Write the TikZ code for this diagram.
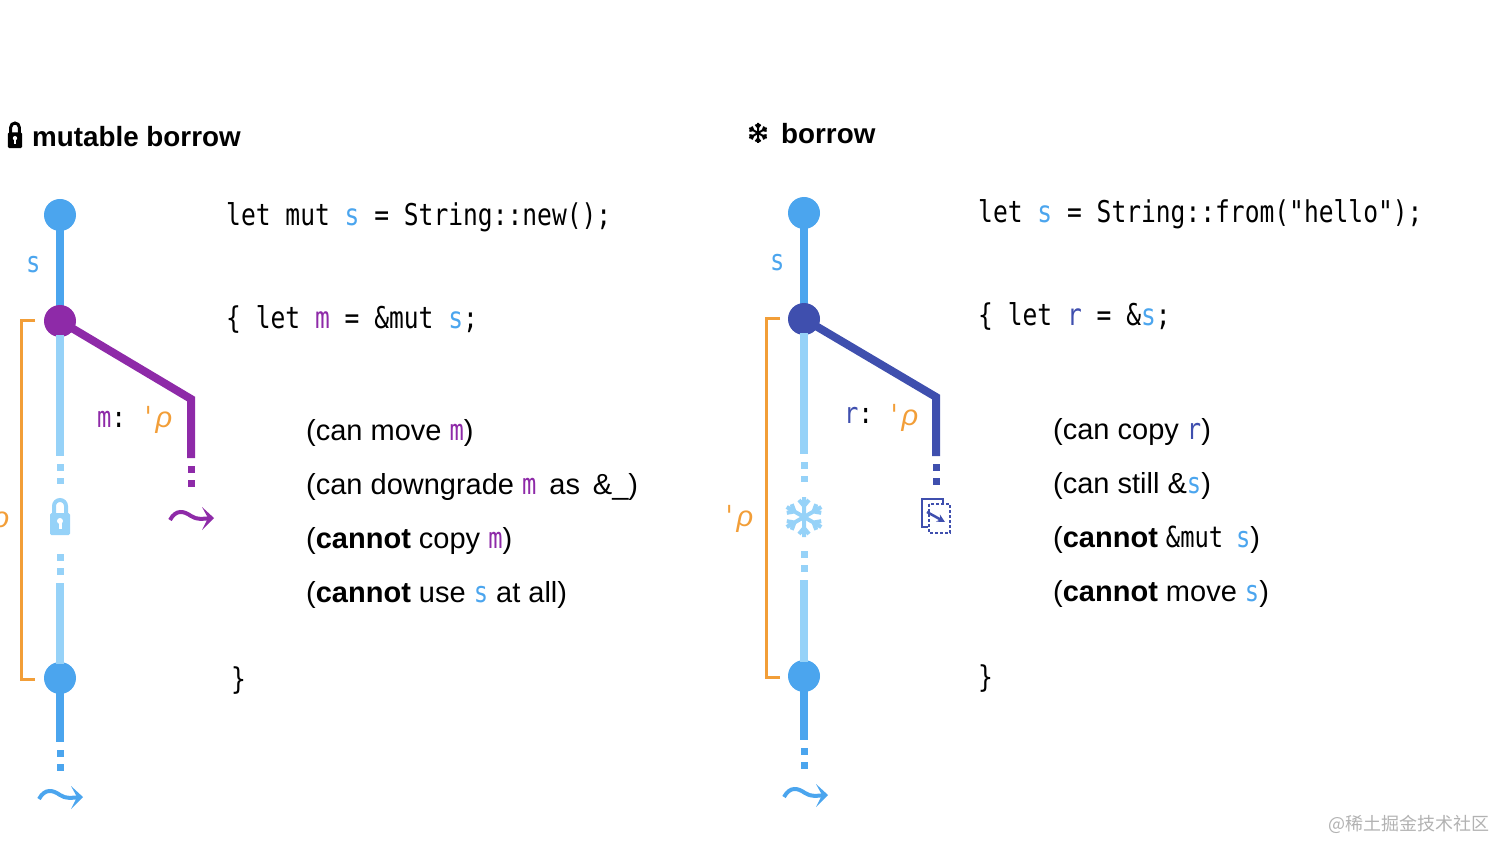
\documentclass[tikz,border=0pt]{standalone}
\usepackage{fontspec}
\setmainfont{Liberation Sans}
\setmonofont[FakeStretch=0.82]{DejaVu Sans Mono}
\newfontfamily\cjkfont{Noto Sans CJK SC}
\usetikzlibrary{arrows.meta,calc}

\definecolor{sblue}{HTML}{4BA5EE}
\definecolor{lblue}{HTML}{96D2F8}
\definecolor{mpurple}{HTML}{8E2AA8}
\definecolor{rindigo}{HTML}{3F4FAE}
\definecolor{lorange}{HTML}{F29E38}

\newcommand{\vs}{\textcolor{sblue}{\texttt{s}}}
\newcommand{\vm}{\textcolor{mpurple}{\texttt{m}}}
\newcommand{\vr}{\textcolor{rindigo}{\texttt{r}}}
\newcommand{\lft}{\textcolor{lorange}{\hspace*{-5pt}\texttt{'}\textit{ρ}}}

\tikzset{
  codetext/.style={anchor=base west,inner sep=0pt,font=\fontsize{30}{34}\selectfont\ttfamily},
  prosetext/.style={anchor=base west,inner sep=0pt,font=\fontsize{29}{34}\selectfont},
  headtext/.style={anchor=base west,inner sep=0pt,font=\fontsize{27.8}{34}\selectfont\bfseries},
  dot/.style={circle,minimum size=32pt,inner sep=0pt,outer sep=-2pt,fill=#1},
  life/.style={line width=8pt,#1},
  lifedash/.style={line width=7pt,dash pattern=on 7pt off 7pt,#1},
  region/.style={line width=3pt,lorange},
  squiggle/.pic={
    \draw[#1,line width=4pt] (-21,2) .. controls (-15,-9) and (-7,-7) .. (0,-2)
      .. controls (6,2) and (12,1) .. (20,0);
    \fill[#1] (11,-11) -- (23,0) -- (11,12) -- (17,0) -- cycle;
  },
  lockicon/.pic={
    \draw[line width=4pt,#1] (-6,0) -- (-6,-12) arc (180:360:6) -- (6,0);
    \fill[#1,rounded corners=1.5pt] (-10,-5) rectangle (10,17);
    \fill[white] (0,3) circle (3);
    \fill[white] (-1.5,3) -- (1.5,3) -- (1.5,11) -- (-1.5,11) -- cycle;
  },
  flakeicon/.pic={
    \foreach \a in {0,60,...,300} {
      \draw[line width=4pt,#1,rotate=\a] (0,0) -- (0,-20)
        (-5,-17) -- (0,-11) -- (5,-17);
    }
  },
}

\begin{document}
\begin{tikzpicture}[x=1pt,y=-1pt,>=Stealth]
  \useasboundingbox (0,0) rectangle (1512,858);

  % left: mutable borrow
  \pic[scale=0.72] at (15,136) {lockicon={black,line width=3pt}};
  \node[headtext] (headm) at (32,147) {mutable borrow};

  \coordinate (sbrk) at (35,321);
  \coordinate (sbrkend) at (35,679);
  \draw[region] (sbrk) -- (21,321) -- (21,679) -- (sbrkend);
  \node[prosetext,lorange] (ltm) at (-17,527) {\lft};

  \coordinate (sa) at (60,456);
  \coordinate (sb) at (60,484);
  \coordinate (sc) at (60,554);
  \coordinate (sd) at (60,582);
  \coordinate (se) at (60,742);
  \coordinate (sf) at (60,771);
  \node[dot=sblue] (s0) at (60,215) {};
  \node[dot=sblue] (s1) at (60,678) {};
  \draw[life=sblue] (s0) -- (60,321);
  \node[dot=mpurple] (m0) at (60,321) {};
  \draw[life=lblue] (m0) -- (sa);
  \draw[lifedash=lblue] (sa) ++(0,8) -- (sb);
  \draw[lifedash=lblue] (sc) -- (sd);
  \draw[life=lblue] (60,583) -- (s1);
  \draw[life=sblue] (s1) -- (se);
  \draw[lifedash=sblue] (se) ++(0,8) -- (sf);
  \pic at (60,518) {lockicon=lblue};
  \pic at (60,797) {squiggle=sblue};

  \coordinate (mknee) at (191,399);
  \coordinate (ma) at (191,458);
  \coordinate (mb) at (191,487);
  \draw[life=mpurple,line join=miter] (m0) -- (mknee) -- (ma);
  \draw[lifedash=mpurple] (ma) ++(0,8) -- (mb);
  \pic at (191,518) {squiggle=mpurple};
  \node[prosetext] (slab) at (26,273) {\vs};
  \node[prosetext] (mlab) at (97,427) {\vm\texttt{:}};
  \node[prosetext] (mlt) at (146,427) {\lft};

  \node[codetext] (code1) at (226,226) {let mut \vs{} = String::new();};
  \node[codetext] (code2) at (226,329) {\{ let \vm{} = \&mut \vs;};
  \node[prosetext] (note1) at (306,440) {(can move \vm)};
  \node[prosetext] (note2) at (306,494) {(can downgrade \vm{} \,as \,\&\_)};
  \node[prosetext] (note3) at (306,548) {(\textbf{cannot} copy \vm)};
  \node[prosetext] (note4) at (306,602) {(\textbf{cannot} use \vs{} at all)};
  \node[codetext] (code3) at (231,689) {\}};

  % right: shared borrow
  \pic[scale=0.5] at (758,133) {flakeicon={black,line width=2pt}};
  \node[headtext] (headr) at (781,144) {borrow};

  \coordinate (tbrk) at (780,319);
  \coordinate (tbrkend) at (780,677);
  \draw[region] (tbrk) -- (766,319) -- (766,677) -- (tbrkend);
  \node[prosetext,lorange] (ltr) at (727,526) {\lft};

  \coordinate (ta) at (804,454);
  \coordinate (tb) at (804,482);
  \coordinate (tc) at (804,551);
  \coordinate (td) at (804,579);
  \coordinate (te) at (804,740);
  \coordinate (tf) at (804,769);
  \node[dot=sblue] (t0) at (804,213) {};
  \node[dot=sblue] (t1) at (804,676) {};
  \draw[life=sblue] (t0) -- (804,319);
  \node[dot=rindigo] (r0) at (804,319) {};
  \draw[life=lblue] (r0) -- (ta);
  \draw[lifedash=lblue] (ta) ++(0,8) -- (tb);
  \draw[lifedash=lblue] (tc) -- (td);
  \draw[life=lblue] (804,580) -- (t1);
  \draw[life=sblue] (t1) -- (te);
  \draw[lifedash=sblue] (te) ++(0,8) -- (tf);
  \pic at (804,517) {flakeicon=lblue};
  \pic at (805,795) {squiggle=sblue};

  \coordinate (rknee) at (936,397);
  \coordinate (ra) at (936,456);
  \coordinate (rb) at (936,485);
  \draw[life=rindigo,line join=miter] (r0) -- (rknee) -- (ra);
  \draw[lifedash=rindigo] (ra) ++(0,8) -- (rb);
  \draw[rindigo,line width=1.5pt] (943,503) -- (943,499) -- (922,499) -- (922,527) -- (928,527);
  \draw[rindigo,line width=1.5pt,dash pattern=on 3pt off 2pt] (929,504) rectangle (950,533);
  \draw[rindigo,line width=2.5pt,-{Stealth[length=8pt,width=8pt]}] (927,512) -- (945,522);
  \node[prosetext] (slabr) at (770,271) {\vs};
  \node[prosetext] (rlab) at (844,423) {\vr\texttt{:}};
  \node[prosetext] (rlt) at (892,425) {\lft};

  \node[codetext] (rcode1) at (978,223) {let \vs{} = String::from("hello");};
  \node[codetext] (rcode2) at (978,326) {\{ let \vr{} = \&\vs;};
  \node[prosetext] (rnote1) at (1053,439) {(can copy \vr)};
  \node[prosetext] (rnote2) at (1053,493) {(can still \&\vs)};
  \node[prosetext] (rnote3) at (1053,547) {(\textbf{cannot} \texttt{\&mut} \,\vs)};
  \node[prosetext] (rnote4) at (1053,601) {(\textbf{cannot} move \vs)};
  \node[codetext] (rcode3) at (978,687) {\}};

  \node[anchor=base west,inner sep=0pt,gray!60,font=\fontsize{18}{20}\selectfont\cjkfont] (mark) at (1328,830) {@稀土掘金技术社区};
\end{tikzpicture}
\end{document}
